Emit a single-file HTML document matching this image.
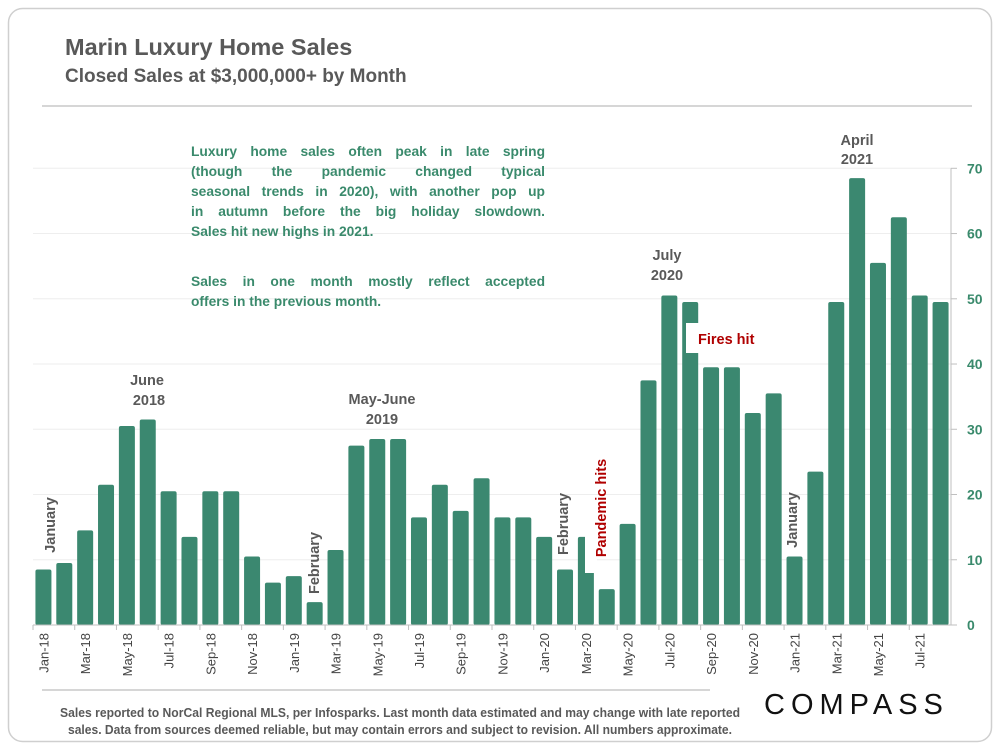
<!DOCTYPE html>
<html><head><meta charset="utf-8"><style>
html,body{margin:0;padding:0;background:#fff;}
body{width:1000px;height:750px;overflow:hidden;font-family:"Liberation Sans",sans-serif;position:relative;}
#anno{position:absolute;left:191px;top:142px;width:354px;font-size:13.8px;font-weight:bold;color:#3a8a6c;line-height:20px;}
#anno div{text-align:justify;text-align-last:justify;white-space:nowrap;height:20px;}
#anno div.l{text-align-last:left;}
#anno div.gap{height:30px;}
</style></head><body>
<svg id="chart" width="1000" height="750" xmlns="http://www.w3.org/2000/svg" font-family="Liberation Sans, sans-serif" style="position:absolute;left:0;top:0">
<rect x="8.5" y="8.5" width="983" height="733" rx="14" fill="#fff" stroke="#cfcfcf" stroke-width="1.5"/>
<text x="65" y="55" font-size="23.5" font-weight="bold" fill="#595959">Marin Luxury Home Sales</text>
<text x="65" y="82" font-size="19" font-weight="bold" fill="#595959">Closed Sales at $3,000,000+ by Month</text>
<line x1="42" y1="106" x2="972" y2="106" stroke="#bdbdbd" stroke-width="1.2"/>
<g id="grid"></g><g id="bars"></g><g id="axes"></g>
<rect x="585" y="520" width="12" height="53" fill="#fff"/>
<rect x="686" y="323" width="70" height="30" fill="#fff"/>
<g font-size="14.5" font-weight="bold" fill="#595959" text-anchor="middle">
<text transform="translate(55,525) rotate(-90)">January</text>
<text x="147" y="385">June</text>
<text x="149" y="405">2018</text>
<text transform="translate(319,563) rotate(-90)">February</text>
<text x="382" y="404">May-June</text>
<text x="382" y="424">2019</text>
<text transform="translate(568,524) rotate(-90)">February</text>
<text x="667" y="260">July</text>
<text x="667" y="280">2020</text>
<text transform="translate(797,520) rotate(-90)">January</text>
<text x="857" y="145">April</text>
<text x="857" y="164">2021</text>
</g>
<g font-size="14.5" font-weight="bold" fill="#b00000">
<text text-anchor="middle" transform="translate(606,508) rotate(-90)">Pandemic hits</text>
<text x="698" y="344">Fires hit</text>
</g>
<line x1="42" y1="690" x2="710" y2="690" stroke="#bdbdbd" stroke-width="1.2"/>
<g font-size="12.5" font-weight="bold" fill="#595959" text-anchor="middle">
<text x="400" y="717" textLength="680" lengthAdjust="spacingAndGlyphs">Sales reported to NorCal Regional MLS, per Infosparks. Last month data estimated and may change with late reported</text>
<text x="400" y="734" textLength="664" lengthAdjust="spacingAndGlyphs">sales. Data from sources deemed reliable, but may contain errors and subject to revision. All numbers approximate.</text>
</g>
<text x="764" y="714" font-size="29" letter-spacing="6" fill="#111">COMPASS</text>
</svg>
<div id="anno">
<div>Luxury home sales often peak in late spring</div>
<div>(though the pandemic changed typical</div>
<div>seasonal trends in 2020), with another pop up</div>
<div>in autumn before the big holiday slowdown.</div>
<div class="l">Sales hit new highs in 2021.</div>
<div class="gap"></div>
<div>Sales in one month mostly reflect accepted</div>
<div class="l">offers in the previous month.</div>
</div>
<script>
const categories=["Jan-18","Feb-18","Mar-18","Apr-18","May-18","Jun-18","Jul-18","Aug-18","Sep-18","Oct-18","Nov-18","Dec-18","Jan-19","Feb-19","Mar-19","Apr-19","May-19","Jun-19","Jul-19","Aug-19","Sep-19","Oct-19","Nov-19","Dec-19","Jan-20","Feb-20","Mar-20","Apr-20","May-20","Jun-20","Jul-20","Aug-20","Sep-20","Oct-20","Nov-20","Dec-20","Jan-21","Feb-21","Mar-21","Apr-21","May-21","Jun-21","Jul-21","Aug-21"];
const sales=[8,9,14,21,30,31,20,13,20,20,10,6,7,3,11,27,28,28,16,21,17,22,16,16,13,8,13,5,15,37,50,49,39,39,32,35,10,23,49,68,55,62,50,49];
const yTicks=[0,10,20,30,40,50,60,70];
const NS="http://www.w3.org/2000/svg";
const x0=33,x1=951,y0=625,yTop=168.3,yMax=70;
const bw=(x1-x0)/categories.length;
function xScale(i){return x0+i*bw;}
function yScale(v){return y0-(v/yMax)*(y0-yTop);}
function mk(tag,attrs,parent){const e=document.createElementNS(NS,tag);for(const k in attrs)e.setAttribute(k,attrs[k]);parent.appendChild(e);return e;}
const grid=document.getElementById('grid'),bars=document.getElementById('bars'),axes=document.getElementById('axes');
yTicks.forEach(t=>{
  const y=yScale(t);
  if(t>0){const g=mk('line',{x1:x0,x2:x1,y1:y,y2:y,stroke:'#eeeeee','stroke-width':1},grid);
  
  }
  const tk=mk('line',{x1:x1,x2:x1+6,y1:y,y2:y,stroke:'#bfbfbf','stroke-width':1},axes);
  
  
  const lb=mk('text',{x:x1+16,y:y+5,'font-size':14,'font-weight':'bold',fill:'#3a8a6c'},axes);
  lb.textContent=t;
  
  
});
sales.forEach((v,i)=>{
  const w=16,x=xScale(i)+(bw-w)/2,top=yScale(v+0.5);
  const r=mk('rect',{x:x,y:top,width:w,height:y0-top,rx:2,fill:'#3b8870'},bars);
  
  
});
const ya=mk('line',{x1:x1,x2:x1,y1:yTop,y2:y0,stroke:'#bfbfbf','stroke-width':1},axes);


const xa=mk('line',{x1:x0,x2:x1,y1:y0,y2:y0,stroke:'#bfbfbf','stroke-width':1},axes);


categories.forEach((c,i)=>{
  if(i%2===0){
    const tk=mk('line',{x1:xScale(i),x2:xScale(i),y1:y0,y2:y0+5,stroke:'#bfbfbf','stroke-width':1},axes);
    
    
    const cx=xScale(i)+bw/2+5;
    const t=mk('text',{transform:`translate(${cx},633) rotate(-90)`,'text-anchor':'end','font-size':13,fill:'#444'},axes);
    t.textContent=c;
    
    
  }
});
</script>
</body></html>
